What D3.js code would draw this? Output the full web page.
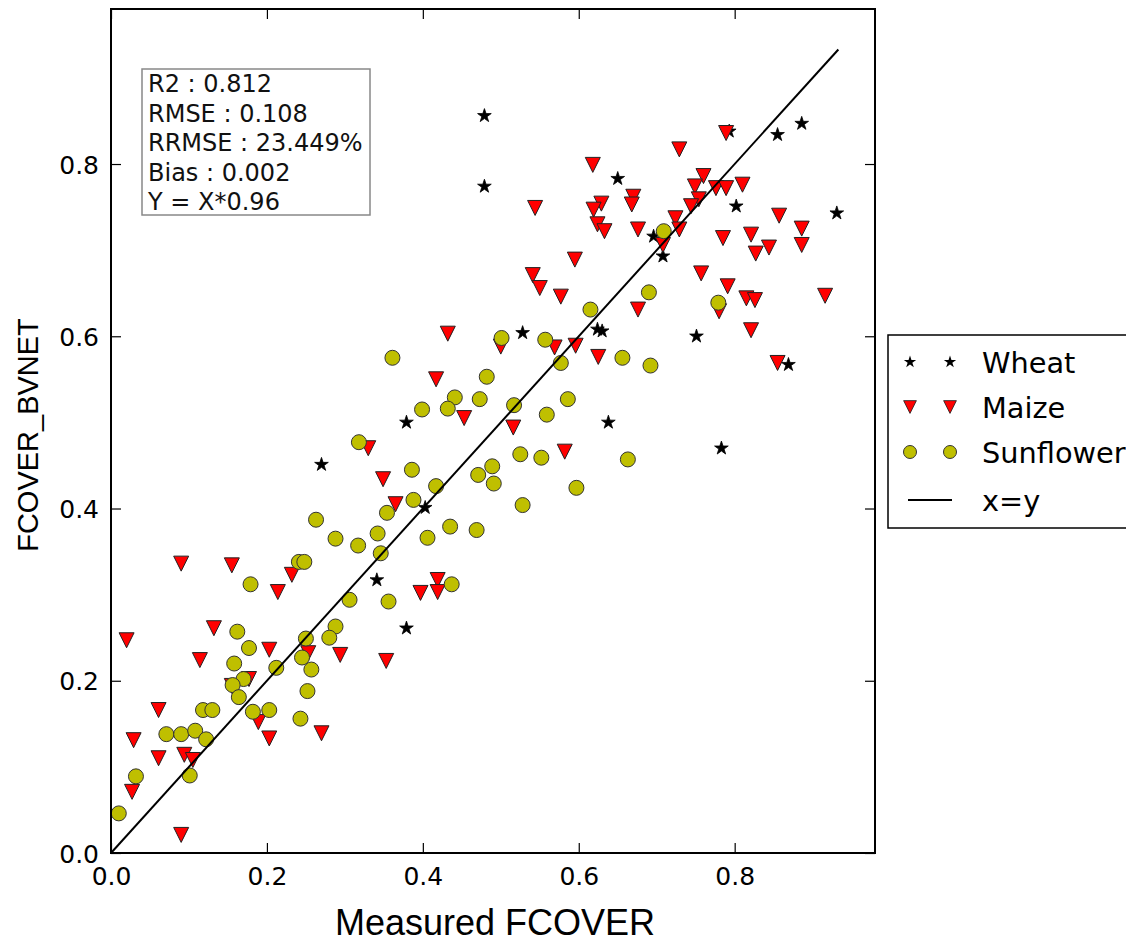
<!DOCTYPE html>
<html>
<head>
<meta charset="utf-8">
<script src="https://cdn.jsdelivr.net/npm/d3@7"></script>
<style>
  body { margin: 0; background: #fff; }
  .tick text { font-family: "DejaVu Sans", sans-serif; font-size: 25px; fill: #000; }
  .tick line { stroke: #000; stroke-width: 1.2; }
  .domain { display: none; }
  .statText { font-family: "DejaVu Sans", sans-serif; font-size: 24px; fill: #111; }
  .legendText { font-family: "DejaVu Sans", sans-serif; font-size: 28.8px; fill: #000; }
  .axisTitle { font-family: "Liberation Sans", Arial, sans-serif; fill: #000; }
</style>
</head>
<body>
<div class="chart"></div>
<script>

// Values (measured vs BV-NET FCOVER)
var wheatX = [0.479, 0.479, 0.650, 0.528, 0.624, 0.630, 0.379, 0.638, 0.793, 0.855, 0.886,
              0.802, 0.931, 0.696, 0.708, 0.751, 0.869, 0.270, 0.341, 0.403, 0.379, 0.783];
var wheatY = [0.856, 0.774, 0.783, 0.604, 0.608, 0.606, 0.500, 0.500, 0.838, 0.834, 0.847,
              0.751, 0.743, 0.716, 0.693, 0.600, 0.567, 0.451, 0.317, 0.401, 0.261, 0.470];

var maizeX = [0.618, 0.670, 0.629, 0.668, 0.544, 0.619, 0.624, 0.633, 0.676, 0.595, 0.541,
              0.550, 0.577, 0.676, 0.432, 0.500, 0.569, 0.596, 0.625, 0.417, 0.453, 0.516,
              0.789, 0.729, 0.760, 0.749, 0.776, 0.789, 0.810, 0.754, 0.744, 0.857, 0.724,
              0.886, 0.729, 0.708, 0.785, 0.821, 0.827, 0.844, 0.886, 0.757, 0.791, 0.815,
              0.826, 0.916, 0.780, 0.821, 0.855, 0.330, 0.349, 0.090, 0.155, 0.232, 0.214,
              0.132, 0.020, 0.203, 0.114, 0.294, 0.353, 0.253, 0.177, 0.155, 0.061, 0.189,
              0.270, 0.203, 0.029, 0.061, 0.094, 0.105, 0.027, 0.090, 0.582, 0.365, 0.419,
              0.397, 0.419];
var maizeY = [0.799, 0.762, 0.754, 0.753, 0.749, 0.747, 0.730, 0.722, 0.724, 0.689, 0.671,
              0.656, 0.646, 0.631, 0.603, 0.588, 0.587, 0.589, 0.576, 0.550, 0.505, 0.494,
              0.836, 0.817, 0.786, 0.774, 0.772, 0.772, 0.776, 0.759, 0.751, 0.740, 0.737,
              0.725, 0.724, 0.706, 0.714, 0.718, 0.696, 0.703, 0.706, 0.673, 0.658, 0.644,
              0.642, 0.647, 0.629, 0.607, 0.569, 0.470, 0.434, 0.336, 0.334, 0.323, 0.303,
              0.261, 0.247, 0.236, 0.224, 0.230, 0.223, 0.232, 0.202, 0.194, 0.166, 0.152,
              0.139, 0.133, 0.131, 0.110, 0.114, 0.108, 0.071, 0.021, 0.466, 0.405, 0.317,
              0.302, 0.303];

var sunX = [0.615, 0.501, 0.557, 0.656, 0.361, 0.577, 0.482, 0.441, 0.473, 0.586, 0.399,
            0.432, 0.517, 0.559, 0.709, 0.690, 0.779, 0.692, 0.318, 0.354, 0.263, 0.288,
            0.317, 0.342, 0.346, 0.356, 0.241, 0.248, 0.179, 0.306, 0.162, 0.288, 0.280,
            0.250, 0.177, 0.158, 0.212, 0.245, 0.257, 0.170, 0.156, 0.164, 0.252, 0.118,
            0.130, 0.182, 0.203, 0.243, 0.071, 0.090, 0.108, 0.122, 0.101, 0.032, 0.010,
            0.525, 0.552, 0.663, 0.386, 0.489, 0.471, 0.491, 0.417, 0.597, 0.388, 0.528,
            0.435, 0.469, 0.406, 0.437];
var sunY = [0.631, 0.598, 0.596, 0.575, 0.575, 0.569, 0.553, 0.529, 0.527, 0.527, 0.515,
            0.516, 0.520, 0.509, 0.722, 0.651, 0.639, 0.566, 0.477, 0.395, 0.387, 0.365,
            0.357, 0.371, 0.348, 0.292, 0.338, 0.338, 0.312, 0.294, 0.257, 0.263, 0.250,
            0.249, 0.238, 0.220, 0.215, 0.227, 0.213, 0.202, 0.195, 0.181, 0.188, 0.166,
            0.166, 0.164, 0.166, 0.156, 0.138, 0.138, 0.142, 0.132, 0.090, 0.089, 0.046,
            0.463, 0.459, 0.457, 0.445, 0.449, 0.439, 0.429, 0.426, 0.424, 0.410, 0.404,
            0.379, 0.375, 0.366, 0.312];

// 1:1 line end point and fit statistics
var lineEnd = 0.933;
var statLines = ["R2 : 0.812", "RMSE : 0.108", "RRMSE : 23.449%", "Bias : 0.002", "Y = X*0.96"];
var tickValues = [0.0, 0.2, 0.4, 0.6, 0.8];
var legendNames = ["Wheat", "Maize", "Sunflower", "x=y"];

// Dimensions
var w = 1126;
var h = 946;
var plot = {left: 111, right: 875, top: 9, bottom: 853};

var svg = d3.select(".chart")
  .append("svg")
  .attr("width", w)
  .attr("height", h);

// Scales
var x = d3.scaleLinear().domain([0, 0.98]).range([plot.left, plot.right]);
var y = d3.scaleLinear().domain([0, 0.98]).range([plot.bottom, plot.top]);

// Marker shapes
var starPath = d3.symbol().type(d3.symbolStar).size(58)();
var triPath = "M-7.5,-7.5L7.5,-7.5L0,7.5Z";

function zip(xs, ys) {
    return xs.map(function(d, i) { return [d, ys[i]]; });
}

// Axes with inward ticks on all four sides
var fmt = d3.format(".1f");
svg.append("g")
  .attr("transform", "translate(0," + plot.bottom + ")")
  .call(d3.axisBottom(x).tickValues(tickValues).tickFormat(fmt).tickSizeInner(-10).tickSizeOuter(0).tickPadding(14));
svg.append("g")
  .attr("transform", "translate(" + plot.left + ",0)")
  .call(d3.axisLeft(y).tickValues(tickValues).tickFormat(fmt).tickSizeInner(-10).tickSizeOuter(0).tickPadding(12))
  .selectAll("text").attr("dy", "0.36em");
svg.append("g")
  .attr("transform", "translate(0," + plot.top + ")")
  .call(d3.axisTop(x).tickValues(tickValues).tickFormat("").tickSizeInner(-10).tickSizeOuter(0));
svg.append("g")
  .attr("transform", "translate(" + plot.right + ",0)")
  .call(d3.axisRight(y).tickValues(tickValues).tickFormat("").tickSizeInner(-10).tickSizeOuter(0));

// Points: wheat, maize, sunflower
svg.append("g").selectAll("path")
  .data(zip(wheatX, wheatY))
  .enter().append("path")
  .attr("d", starPath)
  .attr("transform", function(d) { return "translate(" + x(d[0]) + "," + y(d[1]) + ")"; })
  .style("fill", "#000")
  .style("stroke", "#000")
  .style("stroke-width", 0.8);

svg.append("g").selectAll("path")
  .data(zip(maizeX, maizeY))
  .enter().append("path")
  .attr("d", triPath)
  .attr("transform", function(d) { return "translate(" + x(d[0]) + "," + y(d[1]) + ")"; })
  .style("fill", "#ff0000")
  .style("stroke", "#222")
  .style("stroke-width", 1);

svg.append("g").selectAll("circle")
  .data(zip(sunX, sunY))
  .enter().append("circle")
  .attr("cx", function(d) { return x(d[0]); })
  .attr("cy", function(d) { return y(d[1]); })
  .attr("r", 7.5)
  .style("fill", "#bfbf00")
  .style("stroke", "#333")
  .style("stroke-width", 1);

// x=y line
svg.append("line")
  .attr("x1", x(0)).attr("y1", y(0))
  .attr("x2", x(lineEnd)).attr("y2", y(lineEnd))
  .style("stroke", "#000")
  .style("stroke-width", 2);

// Frame
svg.append("rect")
  .attr("x", plot.left).attr("y", plot.top)
  .attr("width", plot.right - plot.left).attr("height", plot.bottom - plot.top)
  .style("fill", "none")
  .style("stroke", "#000")
  .style("stroke-width", 2);

// Statistics box
svg.append("rect")
  .attr("x", 142).attr("y", 69).attr("width", 228).attr("height", 146)
  .style("fill", "#fff")
  .style("stroke", "#888")
  .style("stroke-width", 1.5);
svg.selectAll(".statText")
  .data(statLines)
  .enter().append("text")
  .attr("class", "statText")
  .attr("x", 148)
  .attr("y", function(d, i) { return 92 + i * 29.5; })
  .text(function(d) { return d; });

// Axis titles
svg.append("text")
  .attr("class", "axisTitle")
  .attr("x", 495).attr("y", 935)
  .attr("text-anchor", "middle")
  .style("font-size", "36px")
  .text("Measured FCOVER");
svg.append("text")
  .attr("class", "axisTitle")
  .attr("transform", "translate(38,435) rotate(-90)")
  .attr("text-anchor", "middle")
  .style("font-size", "29px")
  .text("FCOVER_BVNET");

// Legend (outside the axes, cut by the right edge)
var legend = svg.append("g");
legend.append("rect")
  .attr("x", 888).attr("y", 335).attr("width", 280).attr("height", 193)
  .style("fill", "#fff")
  .style("stroke", "#000")
  .style("stroke-width", 1.5);

var rowY = [362, 407, 452, 500];
[910, 950].forEach(function(mx) {
    legend.append("path").attr("d", starPath)
      .attr("transform", "translate(" + mx + "," + rowY[0] + ") scale(0.9)")
      .style("fill", "#000");
    legend.append("path").attr("d", triPath)
      .attr("transform", "translate(" + mx + "," + rowY[1] + ") scale(0.85)")
      .style("fill", "#ff0000").style("stroke", "#222").style("stroke-width", 1);
    legend.append("circle")
      .attr("cx", mx).attr("cy", rowY[2]).attr("r", 6.5)
      .style("fill", "#bfbf00").style("stroke", "#333").style("stroke-width", 1);
});
legend.append("line")
  .attr("x1", 908).attr("x2", 952)
  .attr("y1", rowY[3]).attr("y2", rowY[3])
  .style("stroke", "#000").style("stroke-width", 2);

legend.selectAll(".legendText")
  .data(legendNames)
  .enter().append("text")
  .attr("class", "legendText")
  .attr("x", 982)
  .attr("y", function(d, i) { return rowY[i] + 10.5; })
  .text(function(d) { return d; });

</script>
</body>
</html>
